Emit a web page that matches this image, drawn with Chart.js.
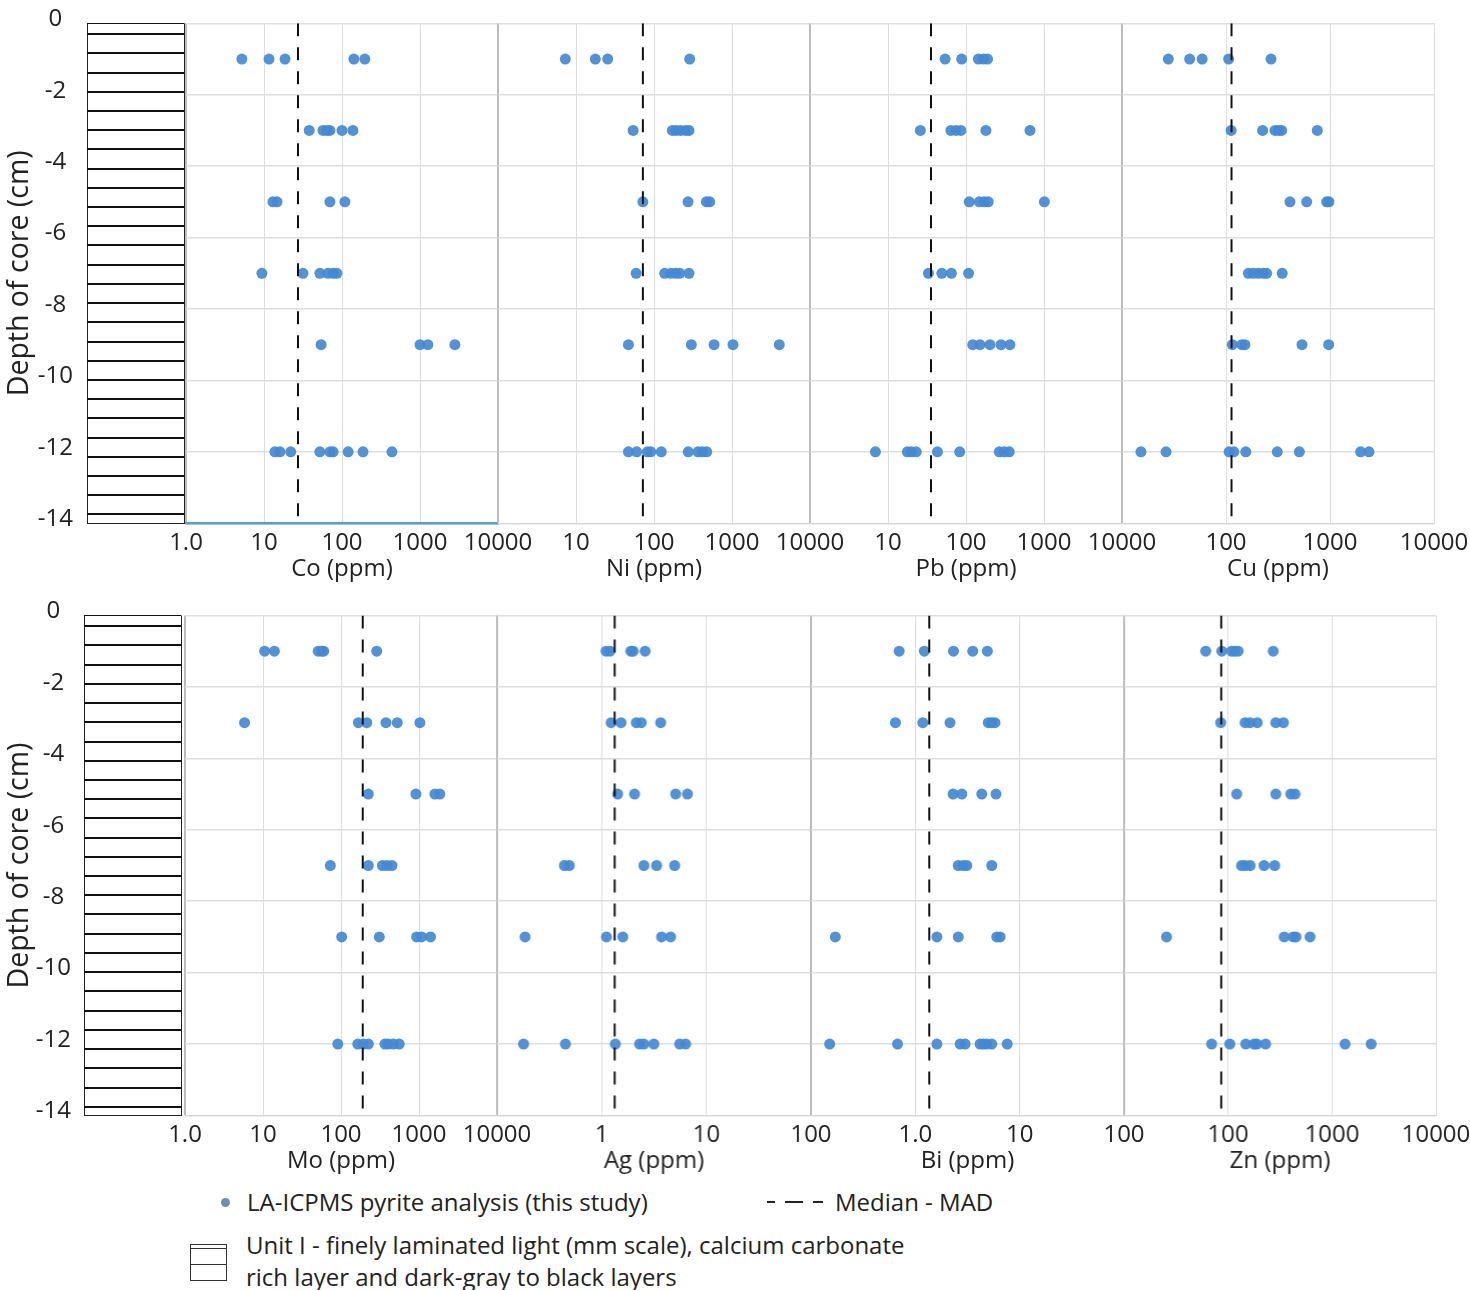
<!DOCTYPE html>
<html>
<head>
<meta charset="utf-8">
<script src="https://cdn.jsdelivr.net/npm/chart.js@4.4.1/dist/chart.umd.min.js"></script>
<style>
  body { margin: 0; background: #fff; font-family: 'Open Sans', sans-serif; color: #222; }
  #page { position: relative; width: 1470px; height: 1290px; overflow: hidden; background: #fff; }
  #page canvas { position: absolute; }
  .legend-text { position: absolute; font-size: 24px; line-height: 30px; white-space: nowrap; color: #222; }
  .legend-dot { position: absolute; width: 9px; height: 9px; border-radius: 50%; background: #6f8db0; }
  .legend-box { position: absolute; width: 37px; height: 37px; border: 1px solid #333; box-sizing: border-box; }
  .legend-box div { position: absolute; left: 0; right: 0; border-top: 1px solid #333; }
</style>
</head>
<body>
<div id="page">
  <span class="legend-dot" style="left:221px; top:1198px;"></span>
  <div class="legend-text" style="left:247px; top:1187px;">LA-ICPMS pyrite analysis (this study)</div>
  <svg style="position:absolute; left:767px; top:1197px;" width="56" height="10">
    <line x1="0" y1="5" x2="56" y2="5" stroke="#222" stroke-width="2" stroke-dasharray="8 10 18 10 10"></line>
  </svg>
  <div class="legend-text" style="left:835px; top:1187px;">Median - MAD</div>
  <div class="legend-box" style="left:190px; top:1244px;"><div style="top:3px;"></div><div style="top:19px;"></div></div>
  <div class="legend-text" style="left:246px; top:1230px;">Unit I - finely laminated light (mm scale), calcium carbonate</div>
  <div class="legend-text" style="left:246px; top:1262px;">rich layer and dark-gray to black layers</div>
</div>
<script>
// sampling depths (cm) - one row of dots per depth
const depthLevels = [-1, -3, -5, -7, -9, -12];

// ppm values per depth level
const coValues = [
    [5.2, 11.6, 18.6, 142, 196],
    [38, 57, 64, 70, 100, 138],
    [13, 14.7, 70, 109],
    [9.4, 31.6, 52, 66, 77, 86],
    [54, 1000, 1260, 2800],
    [13.8, 16, 22, 52, 70, 77, 120, 186, 437]
];
const niValues = [
    [7.3, 17.7, 25.5, 287],
    [54, 172, 193, 220, 255, 281],
    [72, 273, 469, 518],
    [59, 137, 164, 190, 214, 281],
    [47, 301, 589, 1030, 4040],
    [47, 60, 82, 91, 124, 275, 366, 416, 474]
];
const pbValues = [
    [54, 88, 144, 167, 189],
    [26, 64, 74.5, 86, 180, 661],
    [110, 148, 171, 193, 1010],
    [33, 49, 65, 108],
    [122, 151, 203, 281, 366],
    [6.9, 17.7, 19.9, 23, 43, 83, 267, 310, 359]
];
const cuValues = [
    [27.9, 44.7, 59, 106, 271],
    [112, 225, 296, 320, 343, 755],
    [412, 597, 929, 977],
    [164, 183, 205, 229, 246, 347],
    [115, 142, 152, 538, 971],
    [15.2, 26.5, 107, 119, 155, 311, 507, 1970, 2370]
];
const moValues = [
    [10.5, 14, 51, 57, 60, 287],
    [5.8, 167, 214, 377, 526, 1027],
    [224, 913, 1597, 1850],
    [73, 224, 340, 390, 450],
    [102, 310, 933, 1080, 1405],
    [91, 164, 194, 224, 366, 404, 468, 558]
];
const agValues = [
    [1.1, 1.2, 1.9, 2.0, 2.6],
    [1.23, 1.53, 2.14, 2.39, 3.66],
    [1.42, 2.06, 5.09, 6.6],
    [0.44, 0.49, 2.53, 3.35, 4.98],
    [0.185, 1.11, 1.59, 3.73, 4.56],
    [0.179, 0.45, 1.35, 2.3, 2.53, 3.15, 5.56, 6.34]
];
const biValues = [
    [0.70, 1.22, 2.32, 3.55, 4.9],
    [0.645, 1.18, 2.15, 5.0, 5.4, 5.8],
    [2.3, 2.79, 4.33, 5.93],
    [2.58, 2.88, 3.11, 5.4],
    [0.171, 1.61, 2.58, 6.03, 6.5],
    [0.151, 0.675, 1.61, 2.69, 3.0, 4.17, 4.49, 4.83, 5.4, 7.59]
];
const znValues = [
    [61, 87, 108, 116, 125, 272],
    [85, 146, 163, 191, 288, 341],
    [121, 288, 401, 441],
    [135, 146, 163, 222, 281],
    [25.6, 347, 424, 451, 615],
    [69.5, 104, 148, 178, 189, 230, 1337, 2383]
];

const elementNames = ['Co', 'Ni', 'Pb', 'Cu', 'Mo', 'Ag', 'Bi', 'Zn'];
const elementValues = [coValues, niValues, pbValues, cuValues, moValues, agValues, biValues, znValues];
const medianValues = [27.3, 72, 35.6, 113, 190, 1.33, 1.36, 86];

// x axis ranges and tick labels (leftmost label hidden where it would clash)
const axisMin = [1, 1, 1, 10, 1, 0.1, 0.1, 10];
const axisMax = [10000, 10000, 10000, 10000, 10000, 100, 100, 10000];
const tickValues = [
    [1, 10, 100, 1000, 10000],
    [1, 10, 100, 1000, 10000],
    [1, 10, 100, 1000, 10000],
    [10, 100, 1000, 10000],
    [1, 10, 100, 1000, 10000],
    [0.1, 1, 10, 100],
    [0.1, 1, 10, 100],
    [10, 100, 1000, 10000]
];
const tickLabels = [
    ['1.0', '10', '100', '1000', '10000'],
    ['', '10', '100', '1000', '10000'],
    ['', '10', '100', '1000', '10000'],
    ['', '100', '1000', '10000'],
    ['1.0', '10', '100', '1000', '10000'],
    ['', '1', '10', '100'],
    ['', '1.0', '10', '100'],
    ['', '100', '1000', '10000']
];

// lamination lines of the core log (cm)
const laminaDepths = [-0.3, -0.84, -1.38, -1.91, -2.45, -2.99, -3.53, -4.07, -4.6, -5.14, -5.68, -6.22, -6.76,
    -7.3, -7.83, -8.37, -8.91, -9.45, -9.99, -10.52, -11.06, -11.6, -12.14, -12.68, -13.22, -13.75];

// page layout (pixels)
const rows = [
    { top: 0, plotTop: 23.3, colLeft: 87, colRight: 184, labelPad: 6, edges: [186, 498, 810, 1122, 1434], first: 0 },
    { top: 592, plotTop: 23.5, colLeft: 84, colRight: 181, labelPad: 5, edges: [184.5, 497, 810.7, 1124.3, 1436], first: 4 }
];
const CANVAS_H = 600, AXIS_H = 60, PLOT_H = 500, SIDE_PAD = 44;

Chart.defaults.font.family = "'Open Sans', sans-serif";
Chart.defaults.color = '#222';

function makeCanvas(left, top, w, h) {
    const c = document.createElement('canvas');
    c.width = w;
    c.height = h;
    c.style.left = left + 'px';
    c.style.top = top + 'px';
    c.style.width = w + 'px';
    c.style.height = h + 'px';
    document.getElementById('page').appendChild(c);
    return c;
}

function drawPanel(i, left, right, row) {
    const width = right - left + 2 * SIDE_PAD;
    const canvas = makeCanvas(left - SIDE_PAD, row.top, width, CANVAS_H);
    const points = [];
    elementValues[i].forEach((vals, k) => {
        vals.forEach(v => points.push({ x: v, y: depthLevels[k] }));
    });
    const isCo = elementNames[i] === 'Co';

    new Chart(canvas, {
        type: 'scatter',
        data: {
            datasets: [{
                // median line
                data: [{ x: medianValues[i], y: 0 }, { x: medianValues[i], y: -14 }],
                showLine: true,
                borderColor: '#111',
                borderWidth: 2,
                borderDash: [13, 11],
                pointRadius: 0
            }, {
                data: points,
                backgroundColor: 'rgba(66, 137, 214, 0.92)',
                borderWidth: 0,
                pointRadius: 5.5
            }]
        },
        options: {
            responsive: false,
            animation: false,
            layout: {
                padding: { left: SIDE_PAD, right: SIDE_PAD, top: row.plotTop, bottom: CANVAS_H - AXIS_H - PLOT_H - row.plotTop }
            },
            plugins: { legend: { display: false }, tooltip: { enabled: false } },
            scales: {
                x: {
                    type: 'logarithmic',
                    min: axisMin[i],
                    max: axisMax[i],
                    afterBuildTicks: s => { s.ticks = tickValues[i].map(v => ({ value: v })); },
                    afterFit: s => { s.height = AXIS_H; },
                    ticks: {
                        autoSkip: false,
                        maxRotation: 0,
                        padding: 5,
                        font: { size: 24 },
                        color: '#222',
                        callback: (v, idx) => tickLabels[i][idx]
                    },
                    grid: {
                        drawTicks: false,
                        color: c => c.index === 0 ? '#bcbcbc' : '#dedede',
                        lineWidth: c => c.index === 0 ? 2 : 1
                    },
                    border: { color: isCo ? '#5b9bd5' : '#d6d6d6', width: isCo ? 2.5 : 1 },
                    title: {
                        display: true,
                        text: elementNames[i] + ' (ppm)',
                        font: { size: 24 },
                        color: '#222',
                        padding: { top: 0, bottom: 0 }
                    }
                },
                y: {
                    min: -14,
                    max: 0,
                    ticks: { display: false, stepSize: 2 },
                    grid: { drawTicks: false, color: '#dedede', lineWidth: 1.5 },
                    border: { display: false }
                }
            }
        }
    });
}

function drawColumn(row) {
    const width = row.colRight + 10;
    const canvas = makeCanvas(0, row.top, width, CANVAS_H);
    const lamTicks = [0].concat(laminaDepths, [-14]);

    new Chart(canvas, {
        type: 'scatter',
        data: { datasets: [{ data: [] }] },
        options: {
            responsive: false,
            animation: false,
            layout: {
                padding: { left: 0, right: width - row.colRight, top: row.plotTop, bottom: CANVAS_H - AXIS_H - PLOT_H - row.plotTop }
            },
            plugins: { legend: { display: false }, tooltip: { enabled: false } },
            scales: {
                x: {
                    min: 0,
                    max: 1,
                    afterBuildTicks: s => { s.ticks = [{ value: 0 }, { value: 1 }]; },
                    afterFit: s => { s.height = AXIS_H; },
                    ticks: { display: false },
                    grid: { drawTicks: false, color: '#222', lineWidth: 1 },
                    border: { color: '#222', width: 1 }
                },
                y: {
                    position: 'left',
                    min: -14,
                    max: 0,
                    afterFit: s => { s.width = row.colLeft; },
                    ticks: { stepSize: 2, padding: row.labelPad, crossAlign: 'center', labelOffset: -4, font: { size: 24 }, color: '#222' },
                    grid: { display: false },
                    border: { display: false },
                    title: {
                        display: true,
                        text: 'Depth of core (cm)',
                        font: { size: 28.5 },
                        color: '#222',
                        padding: { top: 3, bottom: 0 }
                    }
                },
                lam: {
                    position: 'right',
                    min: -14,
                    max: 0,
                    afterBuildTicks: s => { s.ticks = lamTicks.map(v => ({ value: v })); },
                    ticks: { display: false },
                    grid: {
                        drawTicks: false,
                        color: '#111',
                        lineWidth: c => (c.index === 0 || c.index === lamTicks.length - 1) ? 1 : 2
                    },
                    border: { display: false }
                }
            }
        }
    });
}

rows.forEach(row => {
    drawColumn(row);
    for (let p = 0; p < 4; p++) {
        drawPanel(row.first + p, row.edges[p], row.edges[p + 1], row);
    }
});
</script>
</body>
</html>
